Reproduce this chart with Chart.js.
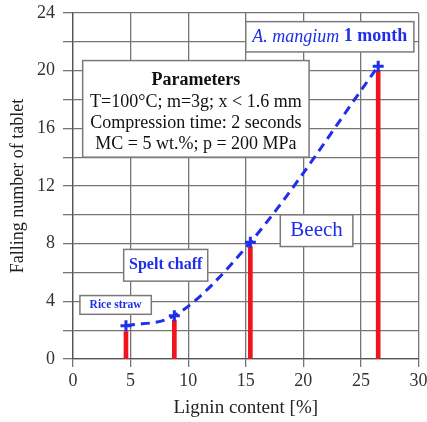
<!DOCTYPE html>
<html>
<head>
<meta charset="utf-8">
<script src="https://cdn.jsdelivr.net/npm/chart.js@4/dist/chart.umd.min.js"></script>
<style>
  html, body { margin: 0; padding: 0; background: #fff; }
</style>
</head>
<body>
<canvas id="ligninChart" width="427" height="422"></canvas>
<script>
// Teor de lignina de cada material [%]
const lignina = [4.6, 8.8, 15.4, 26.5];
// Número de quedas do tablete (cruzes azuis)
const quedas = [2.3, 3.0, 8.1, 20.3];
// Altura das barras vermelhas
const barras = [1.9, 2.7, 7.8, 20.0];
// Materiais
const materiais = ['Rice straw', 'Spelt chaff', 'Beech', 'A. mangium', ' 1 month'];
// Rótulos dos eixos
const ticksY = [0, 4, 8, 12, 16, 20, 24];
const parametros = [
    'Parameters',
    'T=100\u00B0C; m=3g; x < 1.6 mm',
    'Compression time: 2 seconds',
    'MC = 5 wt.%; p = 200 MPa'
];

const azul = '#1f2ee8';
const vermelho = '#f0141c';
const grade = '#757575';
const serif = '"Liberation Serif", "Times New Roman", serif';

// Caixas de texto (posição em unidades do gráfico)
const caixas = [
    { x0: 0.6, x1: 6.8, y0: 4.4, y1: 3.1, cor: azul,
      linhas: [[{ t: materiais[0], f: 'bold 11.5px ' + serif }]] },
    { x0: 4.4, x1: 11.7, y0: 7.6, y1: 5.4, cor: azul,
      linhas: [[{ t: materiais[1], f: 'bold 16px ' + serif }]] },
    { x0: 18.0, x1: 24.3, y0: 10.0, y1: 7.8, cor: azul,
      linhas: [[{ t: materiais[2], f: '21px ' + serif }]] },
    { x0: 15.0, x1: 29.6, y0: 23.4, y1: 21.3, cor: azul,
      linhas: [[{ t: materiais[3], f: 'italic 18px ' + serif }, { t: materiais[4], f: 'bold 18px ' + serif }]] },
    { x0: 0.84, x1: 20.5, y0: 20.7, y1: 14.0, cor: '#111', dy: [20, 42, 63, 84],
      linhas: parametros.map((p, i) => [{ t: p, f: (i === 0 ? 'bold ' : '') + '18px ' + serif }]) }
];

const caixasPlugin = {
    id: 'caixas',
    beforeDatasetsDraw(chart) {
        const { ctx, scales: { x, y } } = chart;
        caixas.forEach(c => {
            const left = x.getPixelForValue(c.x0);
            const right = x.getPixelForValue(c.x1);
            const top = y.getPixelForValue(c.y0);
            const bottom = y.getPixelForValue(c.y1);
            ctx.save();
            ctx.fillStyle = '#fff';
            ctx.strokeStyle = '#7a7a7a';
            ctx.lineWidth = 1.5;
            ctx.fillRect(left, top, right - left, bottom - top);
            ctx.strokeRect(left, top, right - left, bottom - top);

            const cx = (left + right) / 2;
            ctx.textBaseline = 'middle';
            ctx.textAlign = 'left';
            ctx.fillStyle = c.cor;
            c.linhas.forEach((segs, i) => {
                const ly = c.dy ? top + c.dy[i] : (top + bottom) / 2;
                let total = 0;
                segs.forEach(s => { ctx.font = s.f; total += ctx.measureText(s.t).width; });
                let px = cx - total / 2;
                segs.forEach(s => {
                    ctx.font = s.f;
                    ctx.fillText(s.t, px, ly);
                    px += ctx.measureText(s.t).width;
                });
            });
            ctx.restore();
        });
    }
};

const ctx = document.getElementById('ligninChart').getContext('2d');
new Chart(ctx, {
    type: 'line',
    data: {
        datasets: [
            {
                type: 'line',
                data: lignina.map((v, i) => ({ x: v, y: quedas[i] })),
                borderColor: azul,
                borderWidth: 3,
                borderDash: [9, 6],
                cubicInterpolationMode: 'monotone',
                fill: false,
                pointStyle: 'cross',
                pointRadius: 5.5,
                pointBorderWidth: 3,
                pointBorderColor: azul,
                order: 0
            },
            {
                type: 'bar',
                data: lignina.map((v, i) => ({ x: v, y: barras[i] })),
                backgroundColor: vermelho,
                barThickness: 4,
                order: 1
            }
        ]
    },
    options: {
        responsive: false,
        animation: false,
        devicePixelRatio: 1,
        layout: { padding: { top: 13, right: 7 } },
        plugins: {
            legend: { display: false },
            tooltip: { enabled: false }
        },
        scales: {
            x: {
                type: 'linear',
                min: 0,
                max: 30,
                offset: false,
                ticks: { stepSize: 5, color: '#333', padding: 3, font: { family: serif, size: 18 } },
                grid: { color: grade, lineWidth: 1.3, tickLength: 8, offset: false },
                border: { color: '#555', width: 1.3 },
                title: {
                    display: true,
                    text: 'Lignin content [%]',
                    color: '#222',
                    font: { family: serif, size: 19 },
                    padding: { top: 0, bottom: 3 }
                },
                afterFit(scale) {
                    scale.height = 63;
                    // o "30" pode ficar cortado na borda
                    scale.paddingRight = 0;
                }
            },
            y: {
                min: 0,
                max: 24,
                ticks: {
                    stepSize: 2,
                    color: '#333',
                    padding: 8,
                    font: { family: serif, size: 18 },
                    callback: v => ticksY.includes(v) ? v : ''
                },
                grid: { color: grade, lineWidth: 1.3, tickLength: 10 },
                border: { color: '#555', width: 1.3 },
                title: {
                    display: true,
                    text: 'Falling number of tablet',
                    color: '#222',
                    font: { family: serif, size: 18 },
                    padding: { top: 7, bottom: 0 }
                },
                afterFit(scale) {
                    scale.width = 73;
                    scale.paddingTop = 0;
                }
            }
        }
    },
    plugins: [caixasPlugin]
});
</script>
</body>
</html>
